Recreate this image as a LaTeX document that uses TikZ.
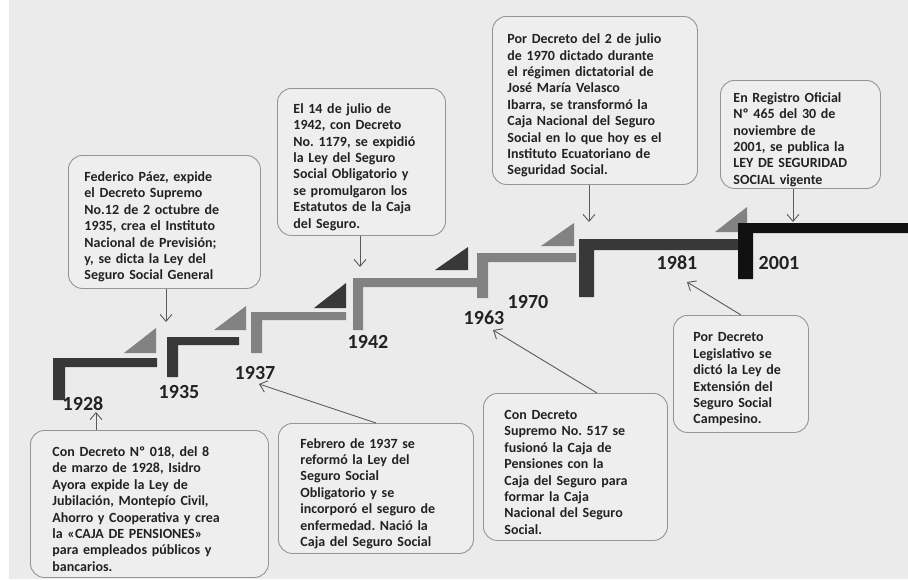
\documentclass[tikz,border=0pt]{standalone}
\usepackage{fontspec}
\setmainfont{Carlito}
\usetikzlibrary{arrows.meta}
\definecolor{bgc}{HTML}{EBEBEB}
\definecolor{boxfill}{HTML}{EEEEEE}
\definecolor{boxedge}{HTML}{959595}
\definecolor{darkbar}{HTML}{383838}
\definecolor{midbar}{HTML}{828282}
\definecolor{blackbar}{HTML}{111111}
\definecolor{txt}{HTML}{222222}
\definecolor{arr}{HTML}{5A5A5A}
\newcommand\topgap{\rule{0pt}{20pt}}
\tikzset{
  infobox/.style={draw=boxedge, fill=boxfill, rounded corners=14pt, line width=0.9pt,
    align=left, text=txt, anchor=north west, inner ysep=0pt,
    font=\fontsize{14}{16.4}\selectfont\bfseries\frenchspacing},
  yearlbl/.style={font=\fontsize{20}{22}\selectfont\bfseries, text=txt, inner sep=0pt},
  conn/.style={draw=arr, line width=0.9pt, -{Straight Barb[length=7pt,width=12pt]}},
}
\begin{document}
\begin{tikzpicture}[x=1pt,y=-1pt]
\useasboundingbox (0,0) rectangle (908,579);
\fill[white] (0,0) rectangle (908,579);
\fill[bgc] (9,0) rectangle (908,579);

% triangles
\fill[midbar] (124,353) -- (156,353) -- (156,328) -- cycle;
\fill[midbar] (214,330) -- (246,330) -- (246,306) -- cycle;
\fill[darkbar] (314,308) -- (346,308) -- (346,283) -- cycle;
\fill[darkbar] (435,270) -- (468,270) -- (468,247) -- cycle;
\fill[midbar] (541,246) -- (574,246) -- (574,223) -- cycle;
\fill[midbar] (715,232) -- (747,232) -- (747,207) -- cycle;

% steps
\fill[darkbar] (53,400) -- (53,358) -- (157,358) -- (157,367) -- (65,367) -- (65,400) -- cycle;
\fill[darkbar] (167,377) -- (167,337) -- (239,337) -- (239,345) -- (178,345) -- (178,377) -- cycle;
\fill[midbar] (251,353) -- (251,312) -- (346,312) -- (346,320) -- (262,320) -- (262,353) -- cycle;
\fill[midbar] (353,330) -- (353,278) -- (477,278) -- (477,287) -- (363,287) -- (363,330) -- cycle;
\fill[midbar] (477,298) -- (477,253) -- (576,253) -- (576,262) -- (488,262) -- (488,298) -- cycle;
\fill[darkbar] (579,297) -- (579,239) -- (740,239) -- (740,250) -- (594,250) -- (594,297) -- cycle;
\fill[blackbar] (738,279) -- (738,223) -- (908,223) -- (908,233) -- (753,233) -- (753,279) -- cycle;

% year labels
\node[yearlbl] (y1928) at (83,404) {1928};
\node[yearlbl] (y1935) at (179,392) {1935};
\node[yearlbl] (y1937) at (255,373) {1937};
\node[yearlbl] (y1942) at (368,342) {1942};
\node[yearlbl] (y1963) at (484,318) {1963};
\node[yearlbl] (y1970) at (528,302) {1970};
\node[yearlbl] (y1981) at (677,263) {1981};
\node[yearlbl] (y2001) at (779,263) {2001};

% boxes
\node[infobox, inner xsep=16pt, text width=160pt, minimum width=192pt, minimum height=133pt] (b1935) at (68,155)
 {\topgap Federico Páez, expide\\el Decreto Supremo\\No.12 de 2 octubre de\\1935, crea el Instituto\\Nacional de Previsión;\\y, se dicta la Ley del\\Seguro Social General};
\node[infobox, inner xsep=16pt, text width=136pt, minimum width=168pt, minimum height=147pt] (b1942) at (277,88)
 {\topgap El 14 de julio de\\1942, con Decreto\\No. 1179, se expidió\\la Ley del Seguro\\Social Obligatorio y\\se promulgaron los\\Estatutos de la Caja\\del Seguro.};
\node[infobox, inner xsep=15pt, text width=175pt, minimum width=205pt, minimum height=168pt] (b1970) at (492,16)
 {\topgap Por Decreto del 2 de julio\\de 1970 dictado durante\\el régimen dictatorial de\\José María Velasco\\Ibarra, se transformó la\\Caja Nacional del Seguro\\Social en lo que hoy es el\\Instituto Ecuatoriano de\\Seguridad Social.};
\node[infobox, inner xsep=13pt, text width=134pt, minimum width=160pt, minimum height=108pt] (b2001) at (720,80)
 {\topgap En Registro Oficial\\Nº 465 del 30 de\\noviembre de\\2001, se publica la\\LEY DE SEGURIDAD\\SOCIAL vigente};
\node[infobox, inner xsep=22pt, text width=194pt, minimum width=238pt, minimum height=147pt] (b1928) at (30,430)
 {\topgap Con Decreto Nº 018, del 8\\de marzo de 1928, Isidro\\Ayora expide la Ley de\\Jubilación, Montepío Civil,\\Ahorro y Cooperativa y crea\\la «CAJA DE PENSIONES»\\para empleados públicos y\\bancarios.};
\node[infobox, inner xsep=22pt, text width=151pt, minimum width=195pt, minimum height=130pt] (b1937) at (278,423)
 {\topgap Febrero de 1937 se\\reformó la Ley del\\Seguro Social\\Obligatorio y se\\incorporó el seguro de\\enfermedad. Nació la\\Caja del Seguro Social};
\node[infobox, inner xsep=21pt, text width=142pt, minimum width=184pt, minimum height=147pt] (b1963) at (483,393)
 {\topgap Con Decreto\\Supremo No. 517 se\\fusionó la Caja de\\Pensiones con la\\Caja del Seguro para\\formar la Caja\\Nacional del Seguro\\Social.};
\node[infobox, inner xsep=20pt, text width=95pt, minimum width=135pt, minimum height=117pt] (b1981) at (673,315)
 {\topgap Por Decreto\\Legislativo se\\dictó la Ley de\\Extensión del\\Seguro Social\\Campesino.};

% arrow tips
\coordinate (t1935) at (166,322);
\coordinate (t1942) at (360,267);
\coordinate (t1970) at (589,222);
\coordinate (t2001) at (793,222);
\coordinate (t1928) at (96,412);
\coordinate (t1937) at (259,384);
\coordinate (t1963) at (493,330);
\coordinate (t1981) at (687,282);
\coordinate (s1963) at (597,393);

% connectors
\draw[conn] (b1935.south -| t1935) -- (t1935);
\draw[conn] (b1942.south -| t1942) -- (t1942);
\draw[conn] (b1970.south -| t1970) -- (t1970);
\draw[conn] (b2001.south -| t2001) -- (t2001);
\draw[conn] (b1928.north -| t1928) -- (t1928);
\draw[conn] (b1937.north) -- (t1937);
\draw[conn] (s1963) -- (t1963);
\draw[conn] (b1981.north) -- (t1981);
\end{tikzpicture}
\end{document}
